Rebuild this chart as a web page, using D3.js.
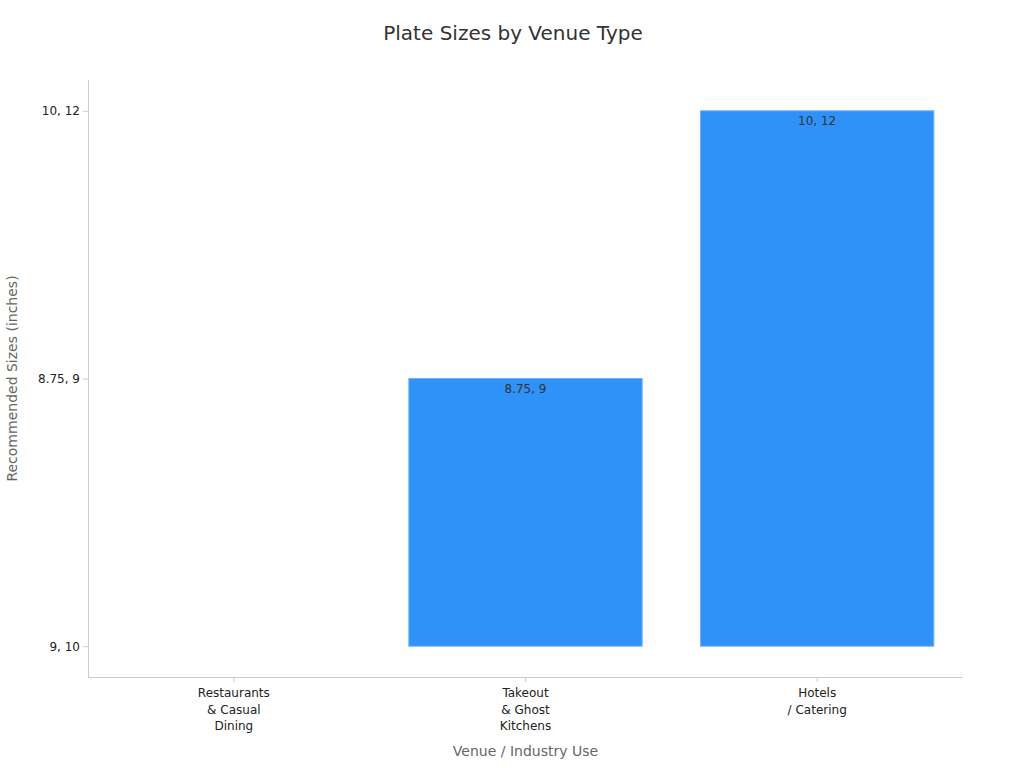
<!DOCTYPE html>
<html>
<head>
<meta charset="utf-8">
<script src="https://cdn.jsdelivr.net/npm/d3@7"></script>
<style>
  body { margin: 0; background: #fff; font-family: "DejaVu Sans", sans-serif; }
  .axis line { stroke: #ccc; }
  .axis text { fill: #222; font-size: 12px; font-family: "DejaVu Sans", sans-serif; }
</style>
</head>
<body>
<div id="chart"></div>
<script>
const venues = [
  ["Restaurants", "& Casual", "Dining"],
  ["Takeout", "& Ghost", "Kitchens"],
  ["Hotels", "/ Catering"]
];
// y axis is categorical, listed bottom to top
const sizeLevels = ["9, 10", "8.75, 9", "10, 12"];
const sizeValues = ["9, 10", "8.75, 9", "10, 12"];

const width = 1024, height = 768;
const margin = { top: 80, right: 61, bottom: 91, left: 88 };
const innerW = width - margin.left - margin.right;
const innerH = height - margin.top - margin.bottom;

const svg = d3.select("#chart").append("svg")
  .attr("width", width)
  .attr("height", height);

svg.append("text")
  .attr("x", width / 2 + 1)
  .attr("y", 40)
  .attr("text-anchor", "middle")
  .attr("fill", "#333")
  .style("font-size", "20px")
  .text("Plate Sizes by Venue Type");

const g = svg.append("g").attr("transform", `translate(${margin.left},${margin.top})`);

const keys = venues.map(d => d.join(" "));
const x = d3.scaleBand().domain(keys).range([0, innerW]).paddingInner(0.2).paddingOuter(0.1);
const y = d3.scalePoint().domain(sizeLevels).range([innerH, 0]).padding(0.115);

const data = keys.map((k, i) => ({ key: k, lines: venues[i], value: sizeValues[i] }));
const base = y(sizeLevels[0]);

g.selectAll(".bar")
  .data(data)
  .enter().append("rect")
  .attr("class", "bar")
  .attr("x", d => x(d.key))
  .attr("y", d => y(d.value))
  .attr("width", x.bandwidth())
  .attr("height", d => base - y(d.value))
  .attr("fill", "#2f92f8")
  .attr("stroke", "#6cb3fa")
  .attr("stroke-width", 1);

g.selectAll(".bar-label")
  .data(data.filter(d => base - y(d.value) > 0))
  .enter().append("text")
  .attr("class", "bar-label")
  .attr("x", d => x(d.key) + x.bandwidth() / 2)
  .attr("y", d => y(d.value) + 14)
  .attr("text-anchor", "middle")
  .attr("fill", "#333")
  .style("font-size", "12px")
  .text(d => d.value);

// x axis
const xAxis = g.append("g")
  .attr("class", "axis axis--x")
  .attr("transform", `translate(0,${innerH})`)
  .call(d3.axisBottom(x).tickSizeOuter(0).tickSize(5).tickFormat(""));
xAxis.select(".domain").remove();
xAxis.append("line").attr("x1", 0).attr("x2", innerW).attr("y1", 0.5).attr("y2", 0.5);
xAxis.selectAll(".tick").each(function(k) {
  const lines = data.find(d => d.key === k).lines;
  const t = d3.select(this).append("text")
    .attr("fill", "#222")
    .attr("text-anchor", "middle")
    .attr("y", 20);
  lines.forEach((l, i) => {
    t.append("tspan").attr("x", 0).attr("dy", i === 0 ? 0 : 16.5).text(l);
  });
});

// y axis
const yAxis = g.append("g")
  .attr("class", "axis axis--y")
  .call(d3.axisLeft(y).tickSizeOuter(0).tickSize(5));
yAxis.select(".domain").remove();
yAxis.append("line").attr("x1", 0.5).attr("x2", 0.5).attr("y1", 0).attr("y2", innerH);

g.append("text")
  .attr("x", innerW / 2)
  .attr("y", innerH + 79)
  .attr("text-anchor", "middle")
  .attr("fill", "#666")
  .style("font-size", "14px")
  .text("Venue / Industry Use");

g.append("text")
  .attr("transform", "rotate(-90)")
  .attr("x", -innerH / 2)
  .attr("y", -71)
  .attr("text-anchor", "middle")
  .attr("fill", "#666")
  .style("font-size", "14px")
  .text("Recommended Sizes (inches)");
</script>
</body>
</html>
